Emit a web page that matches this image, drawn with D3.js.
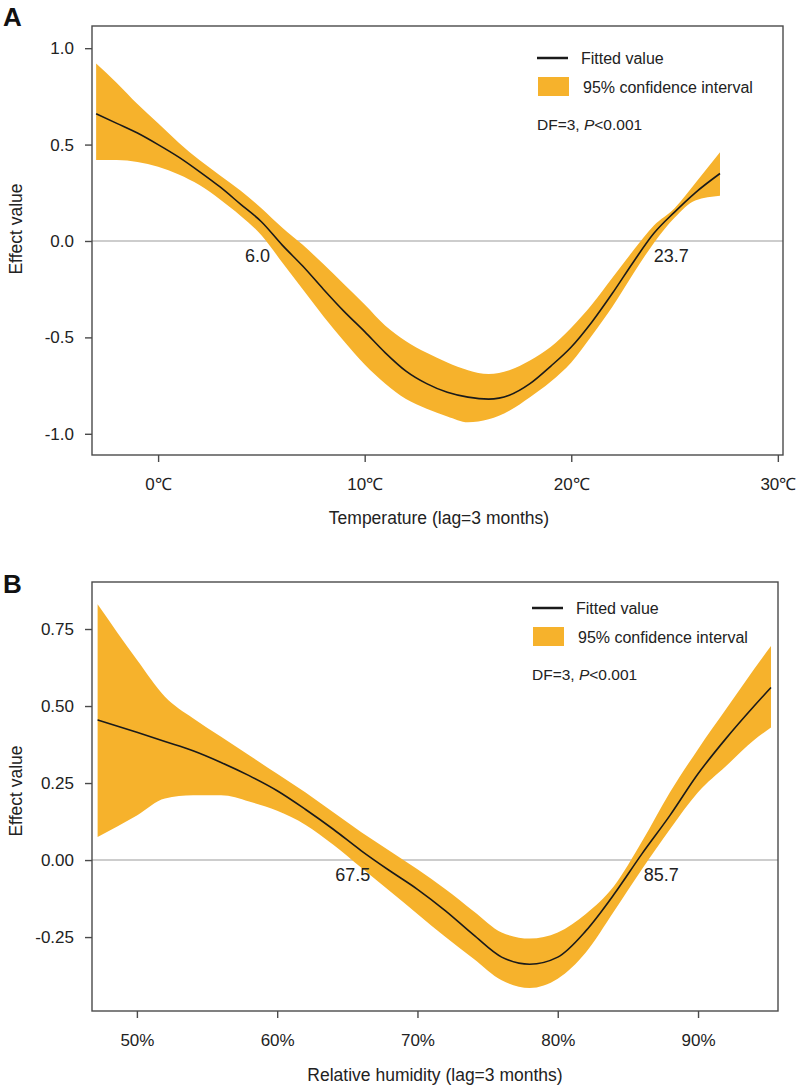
<!DOCTYPE html>
<html>
<head>
<meta charset="utf-8">
<script src="https://cdn.jsdelivr.net/npm/d3@7"></script>
<style>
  body { margin: 0; background: #fff; }
  svg { display: block; font-family: "Liberation Sans", Arial, "Noto Sans CJK SC", sans-serif; }
</style>
</head>
<body>
<svg id="chart" width="798" height="1086"></svg>
<script>
// Panel A: temperature (lag = 3 months)
const tempX = [-3, -2, -1, 0, 1, 2, 3, 4, 5, 6, 7, 8, 9, 10, 11, 12, 13, 14, 15, 16, 17, 18, 19, 20, 21, 22, 23, 24, 25, 26, 27.2]
const tempFit = [0.66, 0.61, 0.56, 0.50, 0.435, 0.36, 0.28, 0.19, 0.10, -0.02, -0.13, -0.25, -0.365, -0.47, -0.58, -0.675, -0.74, -0.785, -0.81, -0.82, -0.80, -0.74, -0.65, -0.55, -0.42, -0.27, -0.11, 0.04, 0.15, 0.25, 0.35]
const tempLower = [0.42, 0.42, 0.41, 0.385, 0.345, 0.29, 0.215, 0.13, 0.03, -0.11, -0.25, -0.39, -0.52, -0.64, -0.74, -0.82, -0.87, -0.91, -0.94, -0.925, -0.88, -0.81, -0.73, -0.63, -0.49, -0.34, -0.17, -0.01, 0.12, 0.21, 0.235]
const tempUpper = [0.92, 0.82, 0.71, 0.61, 0.51, 0.42, 0.34, 0.26, 0.17, 0.07, -0.02, -0.12, -0.225, -0.33, -0.44, -0.52, -0.58, -0.63, -0.67, -0.69, -0.67, -0.62, -0.55, -0.45, -0.33, -0.19, -0.05, 0.08, 0.17, 0.30, 0.46]
const tempTicksX = [0, 10, 20, 30]
const tempTicksY = [-1, -0.5, 0, 0.5, 1]
const tempCuts = [{ value: 6.0, side: 'left' }, { value: 23.7, side: 'right' }]

// Panel B: relative humidity (lag = 3 months)
const humX = [47.2, 50, 52, 54, 56, 58, 60, 62, 64, 66, 68, 70, 72, 74, 76, 78, 80, 82, 84, 86, 88, 90, 92, 94, 95.2]
const humFit = [0.455, 0.415, 0.385, 0.355, 0.317, 0.274, 0.225, 0.165, 0.10, 0.03, -0.034, -0.095, -0.165, -0.243, -0.315, -0.338, -0.315, -0.23, -0.112, 0.02, 0.145, 0.28, 0.395, 0.50, 0.56]
const humLower = [0.075, 0.145, 0.20, 0.21, 0.21, 0.19, 0.16, 0.115, 0.05, -0.025, -0.10, -0.175, -0.25, -0.32, -0.39, -0.415, -0.385, -0.30, -0.167, -0.03, 0.10, 0.22, 0.305, 0.39, 0.43]
const humUpper = [0.83, 0.65, 0.53, 0.46, 0.40, 0.34, 0.28, 0.22, 0.155, 0.09, 0.03, -0.03, -0.095, -0.166, -0.235, -0.255, -0.235, -0.175, -0.085, 0.06, 0.22, 0.36, 0.49, 0.62, 0.695]
const humTicksX = [50, 60, 70, 80, 90]
const humTicksY = [-0.25, 0, 0.25, 0.5, 0.75]
const humCuts = [{ value: 67.5, side: 'left' }, { value: 85.7, side: 'right' }]

const legendLabels = ['Fitted value', '95% confidence interval']
const bandColour = '#f6b22c'
const lineColour = '#1a1a1a'

const svg = d3.select('#chart')
// plain hyphen for negatives, as in the original figure
const hyphen = spec => d => d3.format(spec)(d).replace('\u2212', '-')

const panels = [
  {
    letter: 'A',
    x: tempX, fit: tempFit, lower: tempLower, upper: tempUpper,
    xDomain: [-3.2, 30.25], yDomain: [-1.11, 1.115],
    box: { left: 92, right: 783, top: 26, bottom: 455 },
    xTicks: tempTicksX, xFormat: d => d + '\u2103',
    yTicks: tempTicksY, yFormat: hyphen('.1f'),
    cuts: tempCuts, cutFormat: d3.format('.1f'),
    xTitle: 'Temperature (lag=3 months)', titleX: 439, titleY: 524, yTitleY: 229,
    letterY: 26, legendTop: 32
  },
  {
    letter: 'B',
    x: humX, fit: humFit, lower: humLower, upper: humUpper,
    xDomain: [46.8, 95.7], yDomain: [-0.49, 0.9026],
    box: { left: 92, right: 778, top: 582, bottom: 1011 },
    xTicks: humTicksX, xFormat: d => d + '%',
    yTicks: humTicksY, yFormat: hyphen('.2f'),
    cuts: humCuts, cutFormat: d3.format('.1f'),
    xTitle: 'Relative humidity (lag=3 months)', titleX: 435, titleY: 1081, yTitleY: 791,
    letterY: 593, legendTop: 26
  }
]

panels.forEach(p => {
  const { box } = p
  const x = d3.scaleLinear().domain(p.xDomain).range([box.left, box.right])
  const y = d3.scaleLinear().domain(p.yDomain).range([box.bottom, box.top])
  const rows = p.x.map((v, i) => ({ x: v, fit: p.fit[i], lo: p.lower[i], hi: p.upper[i] }))

  const g = svg.append('g').attr('class', 'panel')

  // zero reference line
  g.append('line')
    .attr('x1', box.left).attr('x2', box.right)
    .attr('y1', y(0)).attr('y2', y(0))
    .attr('stroke', '#bcbcbc')
    .attr('stroke-width', 1.5)

  // confidence band
  g.append('path')
    .datum(rows)
    .attr('fill', bandColour)
    .attr('d', d3.area()
      .x(d => x(d.x))
      .y0(d => y(d.lo))
      .y1(d => y(d.hi))
      .curve(d3.curveMonotoneX))

  // fitted curve
  g.append('path')
    .datum(rows)
    .attr('fill', 'none')
    .attr('stroke', lineColour)
    .attr('stroke-width', 1.6)
    .attr('d', d3.line()
      .x(d => x(d.x))
      .y(d => y(d.fit))
      .curve(d3.curveMonotoneX))

  // frame
  g.append('rect')
    .attr('x', box.left).attr('y', box.top)
    .attr('width', box.right - box.left)
    .attr('height', box.bottom - box.top)
    .attr('fill', 'none')
    .attr('stroke', '#4a4a4a')
    .attr('stroke-width', 1.4)

  // axes
  const xAxis = g.append('g')
    .attr('transform', `translate(0,${box.bottom})`)
    .call(d3.axisBottom(x).tickValues(p.xTicks).tickFormat(p.xFormat).tickSize(7).tickPadding(16))
  const yAxis = g.append('g')
    .attr('transform', `translate(${box.left},0)`)
    .call(d3.axisLeft(y).tickValues(p.yTicks).tickFormat(p.yFormat).tickSize(7).tickPadding(11))
  ;[xAxis, yAxis].forEach(a => {
    a.select('.domain').remove()
    a.selectAll('line').attr('stroke', '#4a4a4a').attr('stroke-width', 1.4)
    a.selectAll('text').attr('fill', '#222').style('font-size', '17px')
  })

  // cut-point labels
  p.cuts.forEach(c => {
    g.append('text')
      .attr('x', x(c.value) + (c.side === 'left' ? -12 : 6))
      .attr('y', y(0) + 21)
      .attr('text-anchor', c.side === 'left' ? 'end' : 'start')
      .attr('fill', '#222')
      .style('font-size', '18px')
      .text(p.cutFormat(c.value))
  })

  // titles
  g.append('text')
    .attr('x', p.titleX).attr('y', p.titleY)
    .attr('text-anchor', 'middle')
    .attr('fill', '#222')
    .style('font-size', '17.5px')
    .text(p.xTitle)
  g.append('text')
    .attr('transform', `translate(22,${p.yTitleY}) rotate(-90)`)
    .attr('text-anchor', 'middle')
    .attr('fill', '#222')
    .style('font-size', '17.5px')
    .text('Effect value')
  g.append('text')
    .attr('x', 3).attr('y', p.letterY)
    .attr('fill', '#111')
    .style('font-size', '26px')
    .style('font-weight', 'bold')
    .text(p.letter)

  // legend
  const lx = box.right - 246
  const ly = box.top + p.legendTop
  const legend = g.append('g').attr('transform', `translate(${lx},${ly})`)
  legend.append('line')
    .attr('x1', 0).attr('x2', 31).attr('y1', 0).attr('y2', 0)
    .attr('stroke', lineColour).attr('stroke-width', 2.5)
  legend.append('text')
    .attr('x', 44).attr('y', 6)
    .attr('fill', '#222').style('font-size', '16px')
    .text(legendLabels[0])
  legend.append('rect')
    .attr('x', 1).attr('y', 19).attr('width', 31).attr('height', 19)
    .attr('fill', bandColour)
  legend.append('text')
    .attr('x', 46).attr('y', 35)
    .attr('fill', '#222').style('font-size', '16px')
    .text(legendLabels[1])
  const df = legend.append('text')
    .attr('x', 0).attr('y', 72)
    .attr('fill', '#222').style('font-size', '15.5px')
  df.append('tspan').text('DF=3, ')
  df.append('tspan').style('font-style', 'italic').text('P')
  df.append('tspan').text('<0.001')
})
</script>
</body>
</html>
